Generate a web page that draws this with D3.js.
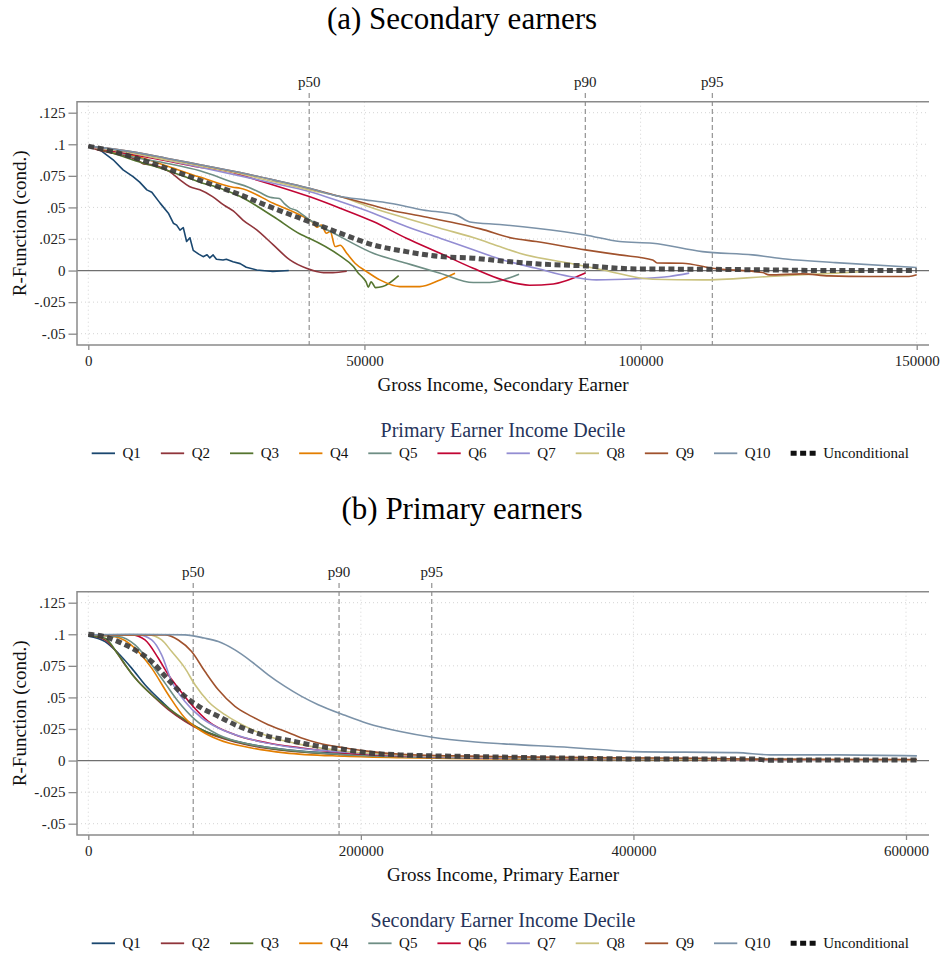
<!DOCTYPE html>
<html><head><meta charset="utf-8">
<script src="https://cdn.jsdelivr.net/npm/d3@7"></script>
<style>body{margin:0;background:#fff}</style>
</head><body>
<svg id="c" width="940" height="958" xmlns="http://www.w3.org/2000/svg"></svg>
<script>
// ---------------- DATA ----------------
const seriesNames = ['Q1','Q2','Q3','Q4','Q5','Q6','Q7','Q8','Q9','Q10'];
const seriesColors = ['#1a476f','#90353b','#55752f','#e37e00','#6e8e84','#c10534','#938dd2','#cac27e','#a0522d','#7b92a8'];
const uncondName = 'Unconditional';
const yTickValues = [-0.05,-0.025,0,0.025,0.05,0.075,0.1,0.125];
const yTickLabels = ['-.05','-.025','0','.025','.05','.075','.1','.125'];
const pctLabels = ['p50','p90','p95'];

// Panel (a): secondary earners
const secXTicks = [0,50000,100000,150000];
const secPct = [40000,90000,113000];
const secQ1 = [[0,0.098],[2100,0.0956],[4500,0.0877],[6300,0.0797],[8100,0.0744],[9300,0.070],[10600,0.0639],[11500,0.062],[13000,0.0534],[14500,0.0454],[15400,0.0375],[16000,0.036],[16600,0.032],[17200,0.034],[17800,0.023],[18400,0.026],[19000,0.016],[20000,0.013],[20800,0.011],[21500,0.0125],[22000,0.010],[22600,0.0124],[23200,0.009],[24400,0.0084],[25000,0.009],[26200,0.007],[27500,0.0055],[28600,0.0026],[30500,0.0005],[33400,-0.0008],[36300,0]];
const secQ2 = [[0,0.098],[2100,0.095],[4500,0.093],[7500,0.090],[9300,0.0863],[10000,0.0845],[11700,0.0837],[14700,0.0784],[16600,0.0718],[18300,0.0665],[20200,0.0639],[22500,0.0586],[24500,0.052],[26300,0.047],[28000,0.040],[30500,0.0322],[33500,0.0203],[36500,0.0084],[39500,0.0018],[42600,-0.0016],[44300,-0.0016],[46800,-0.0005]];
const secQ3 = [[0,0.098],[4500,0.093],[8100,0.0876],[14100,0.0797],[20200,0.070],[24000,0.065],[27500,0.0586],[33500,0.0428],[38600,0.0283],[40000,0.0256],[45600,0.0116],[48000,0.0032],[48900,-0.0021],[49800,-0.006],[50300,-0.009],[50700,-0.0132],[51200,-0.009],[51600,-0.011],[52000,-0.0135],[53300,-0.0127],[56200,-0.004]];
const secQ4 = [[0,0.098],[5000,0.094],[10000,0.089],[14100,0.083],[20200,0.074],[26200,0.066],[27500,0.0652],[33500,0.0533],[39500,0.0414],[40500,0.0388],[41400,0.0343],[42200,0.036],[43100,0.0296],[43800,0.031],[44700,0.019],[45600,0.020],[46800,0.0137],[48300,0.0058],[50400,-0.0008],[52800,-0.0074],[56400,-0.0127],[60000,-0.0127],[63700,-0.0074],[66400,-0.0021]];
const secQ5 = [[0,0.098],[5000,0.094],[8100,0.090],[14100,0.085],[20200,0.079],[26200,0.070],[29000,0.066],[31000,0.062],[32900,0.058],[34600,0.057],[35500,0.053],[36500,0.0494],[37500,0.048],[40100,0.040],[45600,0.0269],[51600,0.0137],[57600,0.0058],[63700,-0.0021],[69700,-0.0095],[72100,-0.0095],[75100,-0.0074],[78000,-0.0029]];
const secQ6 = [[0,0.098],[8000,0.092],[14100,0.087],[20000,0.082],[25800,0.078],[27500,0.0758],[33500,0.0678],[40000,0.0586],[45600,0.0494],[51600,0.0388],[57600,0.0256],[63700,0.0137],[69700,0.0018],[75100,-0.0075],[79900,-0.0116],[84200,-0.0106],[90000,-0.002]];
const secQ7 = [[0,0.098],[8000,0.093],[14100,0.0876],[20000,0.082],[27500,0.075],[33500,0.0692],[40000,0.0626],[45600,0.0546],[51600,0.0454],[57600,0.0348],[63700,0.0256],[69700,0.0164],[75100,0.0084],[81100,0.0018],[87200,-0.0047],[92000,-0.0074],[99200,-0.0065],[105200,-0.0047],[108800,-0.002]];
const secQ8 = [[0,0.098],[8000,0.093],[14100,0.0876],[20000,0.083],[27500,0.0766],[33500,0.0705],[40000,0.0639],[45600,0.0586],[51600,0.0494],[57600,0.0414],[63700,0.0335],[69700,0.0262],[74500,0.019],[78100,0.0137],[87200,0.0058],[93200,0.0005],[102200,-0.0069],[111200,-0.0074],[123300,-0.0047],[135300,-0.002],[140000,-0.001]];
const secQ9 = [[0,0.0985],[8000,0.094],[14100,0.089],[20000,0.084],[27500,0.0776],[33500,0.0718],[40000,0.0652],[45600,0.0586],[50100,0.0533],[54600,0.048],[60600,0.0428],[66600,0.0375],[71000,0.033],[76900,0.0256],[81100,0.023],[90000,0.0164],[96200,0.0124],[102200,0.0084],[103000,0.006],[107600,0.0058],[113000,0.0018],[122100,-0.0016],[123300,-0.0034],[129300,-0.0026],[134100,-0.0042],[141300,-0.0047],[148600,-0.0047],[150000,-0.0034]];
const secQ10 = [[0,0.0985],[8000,0.094],[14100,0.089],[20000,0.084],[27500,0.0776],[33500,0.0718],[40000,0.0652],[45600,0.0586],[50100,0.056],[54600,0.0533],[60600,0.048],[66600,0.0441],[69100,0.0385],[74500,0.0365],[81100,0.0335],[90000,0.0282],[96200,0.023],[102200,0.0216],[111200,0.015],[120300,0.0124],[126300,0.0092],[135300,0.0063],[150000,0.0024]];
const secUncond = [[0,0.0985],[4500,0.0942],[10600,0.0863],[16600,0.0771],[22500,0.0679],[27500,0.060],[33500,0.0494],[40000,0.0388],[45600,0.0296],[51600,0.0203],[57600,0.015],[63700,0.0111],[69700,0.0098],[75000,0.0075],[81100,0.0053],[90000,0.0037],[99200,0.0013],[113000,0.001],[123300,0.0005],[135000,0.0],[150000,0.0]];

// Panel (b): primary earners
const priXTicks = [0,200000,400000,600000];
const priPct = [77000,184000,252000];
const priQ1 = [[0,0.0985],[12300,0.0942],[22000,0.085],[31800,0.0732],[41600,0.06],[53800,0.0468],[66000,0.035],[78300,0.0271],[95400,0.0192],[119800,0.0126],[144300,0.0087],[188300,0.0053],[230000,0.0035],[280000,0.0022],[400000,0.001],[608000,0.0004]];
const priQ2 = [[0,0.099],[12300,0.0955],[20000,0.087],[26900,0.0758],[36700,0.0626],[46500,0.0521],[58700,0.0403],[70900,0.0311],[83200,0.0237],[107600,0.0147],[132000,0.0095],[188300,0.0047],[230000,0.003],[280000,0.002],[400000,0.001],[608000,0.0004]];
const priQ3 = [[0,0.099],[12300,0.0968],[22000,0.0837],[34300,0.0653],[46500,0.0521],[58700,0.0416],[70900,0.0324],[83200,0.0245],[107600,0.0153],[132000,0.01],[188300,0.0047],[230000,0.003],[280000,0.002],[400000,0.001],[608000,0.0004]];
const priQ4 = [[0,0.0995],[19600,0.098],[34300,0.0889],[46500,0.0732],[58700,0.0521],[70900,0.0337],[83200,0.0232],[95400,0.0166],[119800,0.01],[144300,0.0061],[188300,0.0034],[230000,0.0022],[280000,0.0015],[400000,0.0008],[608000,0.0003]];
const priQ5 = [[0,0.0995],[22000,0.0982],[34300,0.0916],[46500,0.0758],[56300,0.0613],[66000,0.0468],[78300,0.0324],[95400,0.0205],[119800,0.0126],[144300,0.0087],[188300,0.0047],[230000,0.003],[280000,0.002],[400000,0.001],[608000,0.0004]];
const priQ6 = [[0,0.0995],[31800,0.0995],[41600,0.0955],[51400,0.081],[58700,0.0679],[66000,0.0574],[75800,0.0442],[88000,0.0311],[107600,0.0205],[132000,0.0139],[156500,0.01],[188300,0.0061],[230000,0.0038],[280000,0.0025],[400000,0.0012],[500000,0.0006],[608000,0.0004]];
const priQ7 = [[0,0.0995],[36700,0.0995],[46500,0.0955],[53800,0.0837],[61200,0.0626],[70900,0.0468],[83200,0.0337],[95400,0.0258],[119800,0.0166],[144300,0.0113],[188300,0.0066],[230000,0.004],[280000,0.0025],[400000,0.0012],[500000,0.0006],[608000,0.0004]];
const priQ8 = [[0,0.0995],[44000,0.0995],[53800,0.0955],[61200,0.0863],[70900,0.0732],[78300,0.06],[88000,0.0468],[100300,0.0363],[115000,0.0271],[132000,0.0192],[156500,0.0126],[188300,0.0074],[230000,0.0045],[280000,0.003],[400000,0.0015],[500000,0.0008],[608000,0.0005]];
const priQ9 = [[0,0.0995],[56300,0.0995],[66000,0.0955],[75800,0.0863],[85600,0.0705],[95400,0.056],[107600,0.0429],[119800,0.035],[132000,0.0284],[144300,0.0232],[156500,0.0179],[168700,0.0139],[188300,0.01],[204400,0.0075],[230000,0.005],[280000,0.0035],[350000,0.0025],[450000,0.0018],[500000,0.001],[608000,0.0008]];
const priQ10 = [[0,0.0995],[30000,0.1],[70900,0.0995],[85000,0.097],[95400,0.0942],[107600,0.0876],[119800,0.0784],[132000,0.0679],[144300,0.0587],[156500,0.0508],[168700,0.0442],[188300,0.0358],[204400,0.0296],[228900,0.023],[253400,0.0183],[280300,0.0151],[304700,0.0132],[353500,0.0103],[378000,0.0085],[400000,0.0071],[475800,0.0063],[500200,0.0045],[550000,0.0045],[608000,0.0037]];
const priUncond = [[0,0.1],[12300,0.098],[22000,0.0942],[34300,0.0876],[46500,0.0784],[58700,0.064],[70900,0.0508],[83200,0.0416],[95400,0.035],[107600,0.0284],[119800,0.0232],[132000,0.0192],[144300,0.0166],[156500,0.0139],[168700,0.0113],[188300,0.0087],[204400,0.0062],[228900,0.0045],[253400,0.0037],[280300,0.0032],[353500,0.0019],[402400,0.0013],[488000,0.0013],[500200,0.0002],[549200,0.0005],[608000,0.0005]];

// --------------- DRAW ---------------
const FONT = '"Liberation Serif", "Times New Roman", serif';
const AXIS_COL = '#8a8a8a';
const svg = d3.select('#c');

const panels = [
  {dy:0, title:'(a) Secondary earners', xMax:150000, xRight:916.7, xTicks:secXTicks, pct:secPct,
   xTitle:'Gross Income, Secondary Earner', legendTitle:'Primary Earner Income Decile',
   series:[secQ1,secQ2,secQ3,secQ4,secQ5,secQ6,secQ7,secQ8,secQ9,secQ10], uncond:secUncond},
  {dy:490, title:'(b) Primary earners', xMax:600000, xRight:906, xTicks:priXTicks, pct:priPct,
   xTitle:'Gross Income, Primary Earner', legendTitle:'Secondary Earner Income Decile',
   series:[priQ1,priQ2,priQ3,priQ4,priQ5,priQ6,priQ7,priQ8,priQ9,priQ10], uncond:priUncond}
];

panels.forEach(p => {
  const g = svg.append('g').attr('transform', `translate(0,${p.dy})`);
  const boxL = 77, boxR = 929, boxT = 101.7, boxB = 345;
  const x = d3.scaleLinear().domain([0, p.xMax]).range([88.3, p.xRight]);
  const y = d3.scaleLinear().domain([-0.05, 0.125]).range([333.7, 112.7]);

  // Title
  g.append('text').attr('x', 462).attr('y', 29).attr('text-anchor','middle')
    .attr('font-family', FONT).attr('font-size', 31).attr('fill','#000').text(p.title);

  // Gridlines
  g.append('g').selectAll('line').data(yTickValues.filter(v => v !== 0)).join('line')
    .attr('x1', boxL).attr('x2', boxR).attr('y1', d => y(d)).attr('y2', d => y(d))
    .attr('stroke', '#d4d4d4').attr('stroke-width', 1).attr('stroke-dasharray', '1,3');
  g.append('g').selectAll('line').data(p.xTicks).join('line')
    .attr('x1', d => x(d)).attr('x2', d => x(d)).attr('y1', boxT).attr('y2', boxB)
    .attr('stroke', '#d4d4d4').attr('stroke-width', 1).attr('stroke-dasharray', '1,3');

  // Zero line
  g.append('line').attr('x1', boxL).attr('x2', boxR).attr('y1', y(0)).attr('y2', y(0))
    .attr('stroke', '#6f6f6f').attr('stroke-width', 1.3);

  // Percentile lines
  p.pct.forEach((v, i) => {
    g.append('line').attr('x1', x(v)).attr('x2', x(v)).attr('y1', 93).attr('y2', boxB)
      .attr('stroke', '#9a9a9a').attr('stroke-width', 1.3).attr('stroke-dasharray', '5,3');
    g.append('text').attr('x', x(v)).attr('y', 87).attr('text-anchor','middle')
      .attr('font-family', FONT).attr('font-size', 15).attr('fill','#222').text(pctLabels[i]);
  });

  // Box (left, top, bottom)
  g.append('path').attr('d', `M${boxR},${boxT}H${boxL}V${boxB}H${boxR}`)
    .attr('fill','none').attr('stroke', AXIS_COL).attr('stroke-width', 1.5);

  // Axes
  const yAxis = d3.axisLeft(y).tickValues(yTickValues).tickFormat((d,i) => yTickLabels[i])
    .tickSize(8.5).tickPadding(3);
  const ya = g.append('g').attr('transform', `translate(${boxL},0)`).call(yAxis);
  const xAxis = d3.axisBottom(x).tickValues(p.xTicks).tickFormat(d3.format('d'))
    .tickSize(5).tickPadding(5);
  const xa = g.append('g').attr('transform', `translate(0,${boxB})`).call(xAxis);
  [ya, xa].forEach(a => {
    a.select('.domain').remove();
    a.selectAll('line').attr('stroke', AXIS_COL).attr('stroke-width', 1.3);
    a.selectAll('text').attr('font-family', FONT).attr('font-size', 15).attr('fill','#222');
  });

  // Axis titles
  g.append('text').attr('x', (boxL + boxR) / 2).attr('y', 391).attr('text-anchor','middle')
    .attr('font-family', FONT).attr('font-size', 19).attr('fill','#111').text(p.xTitle);
  g.append('text').attr('transform', `translate(26,${(boxT + boxB) / 2}) rotate(-90)`)
    .attr('text-anchor','middle').attr('font-family', FONT).attr('font-size', 19)
    .attr('fill','#111').text('R-Function (cond.)');

  // Series lines
  const line = d3.line().x(d => x(d[0])).y(d => y(d[1])).curve(d3.curveMonotoneX);
  const lineLin = d3.line().x(d => x(d[0])).y(d => y(d[1]));
  p.series.forEach((s, i) => {
    const jagged = (p.dy === 0 && (i === 0));
    g.append('path').datum(s).attr('d', jagged ? lineLin : line)
      .attr('fill','none').attr('stroke', seriesColors[i]).attr('stroke-width', 1.6)
      .attr('stroke-linejoin','round');
  });
  g.append('path').datum(p.uncond).attr('d', line)
    .attr('fill','none').attr('stroke', '#3a3a3a').attr('stroke-opacity', 0.9)
    .attr('stroke-width', 5).attr('stroke-dasharray', '6,3.5');

  // Legend
  g.append('text').attr('x', 503).attr('y', 437).attr('text-anchor','middle')
    .attr('font-family', FONT).attr('font-size', 20).attr('fill','#26335a').text(p.legendTitle);
  let lx = 91.7;
  const ly = 453.3;
  const items = seriesNames.map((n, i) => ({name:n, color:seriesColors[i], unc:false}))
    .concat([{name:uncondName, color:'#111', unc:true}]);
  items.forEach(it => {
    const kw = it.unc ? 25 : 23.3;
    const k = g.append('line').attr('x1', lx).attr('x2', lx + kw).attr('y1', ly).attr('y2', ly)
      .attr('stroke', it.color);
    if (it.unc) k.attr('stroke-width', 5).attr('stroke-dasharray','6,3.5');
    else k.attr('stroke-width', 1.8);
    const t = g.append('text').attr('x', lx + kw + 7.5).attr('y', ly + 5)
      .attr('font-family', FONT).attr('font-size', 15).attr('fill','#111').text(it.name);
    const w = t.node().getComputedTextLength();
    lx = lx + kw + 7.5 + w + 20;
  });
});
</script>
</body></html>
